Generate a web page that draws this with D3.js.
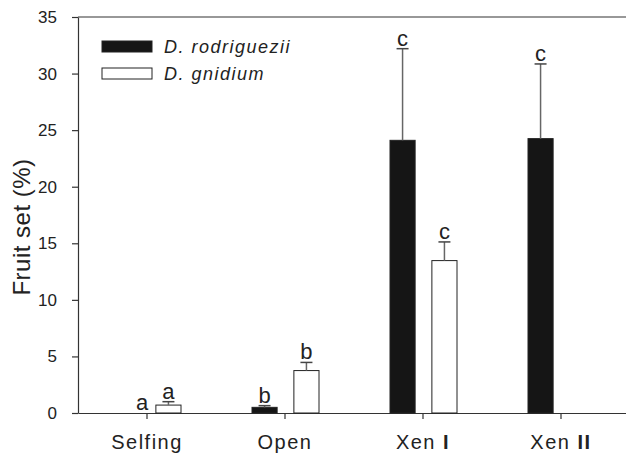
<!DOCTYPE html>
<html>
<head>
<meta charset="utf-8">
<script src="https://cdn.jsdelivr.net/npm/d3@7"></script>
<style>
  body { margin: 0; background: #fff; }
  svg { display: block; font-family: "Liberation Sans", Arial, sans-serif; }
</style>
</head>
<body>
<div id="chart"></div>
<script>
// data
const categories = ["Selfing", "Open", "Xen I", "Xen II"]
const seriesNames = ["D. rodriguezii", "D. gnidium"]
const rodriguezii = [0, 0.5, 24.1, 24.25]
const rodrigueziiErr = [0, 0.15, 8.1, 6.6]
const rodrigueziiLetters = ["a", "b", "c", "c"]
const gnidium = [0.7, 3.75, 13.47, null]
const gnidiumErr = [0.3, 0.72, 1.65, null]
const gnidiumLetters = ["a", "b", "c", null]
const yTicks = [0, 5, 10, 15, 20, 25, 30, 35]

const W = 626, H = 454
const LEFT = 78, RIGHT = 630, TOP = 17, BOTTOM = 413

const svg = d3.select("#chart").append("svg")
  .attr("width", W)
  .attr("height", H)

const x = d3.scaleBand()
  .domain(categories)
  .range([LEFT, RIGHT])

const xSub = d3.scaleBand()
  .domain(seriesNames)
  .range([36, 103])
  .paddingInner(0.4)

const y = d3.scaleLinear()
  .domain([0, 35])
  .range([BOTTOM, TOP])

const fills = ["#151515", "#ffffff"]

// rows for the bars
const rows = []
categories.forEach((c, i) => {
  rows.push({ cat: c, s: seriesNames[0], v: rodriguezii[i], e: rodrigueziiErr[i], l: rodrigueziiLetters[i], k: 0 })
  if (gnidium[i] != null)
    rows.push({ cat: c, s: seriesNames[1], v: gnidium[i], e: gnidiumErr[i], l: gnidiumLetters[i], k: 1 })
})

// frame top line
svg.append("line")
  .attr("x1", LEFT).attr("x2", RIGHT)
  .attr("y1", TOP).attr("y2", TOP)
  .attr("stroke", "#333").attr("stroke-width", 1.2)

// axes
const yAxis = svg.append("g")
  .attr("transform", `translate(${LEFT},0)`)
  .call(d3.axisLeft(y).tickValues(yTicks).tickSize(6).tickPadding(15).tickSizeOuter(0))
yAxis.selectAll("text").style("font-size", "17px").attr("fill", "#222")
yAxis.selectAll("line, path").attr("stroke", "#333").attr("stroke-width", 1.2)

const xAxis = svg.append("g")
  .attr("transform", `translate(0,${BOTTOM})`)
  .call(d3.axisBottom(x).tickSize(6).tickPadding(16).tickSizeOuter(0))
xAxis.selectAll("line, path").attr("stroke", "#333").attr("stroke-width", 1.2)
xAxis.selectAll("text")
  .style("font-size", "20px")
  .style("letter-spacing", "1.5px")
  .attr("fill", "#222")
  .each(function (d) {
    // the roman numerals are drawn heavier in the original
    const t = d3.select(this)
    const m = d.match(/^(Xen )(I+)$/)
    if (m) {
      t.text(null)
      t.append("tspan").text(m[1])
      t.append("tspan").style("font-weight", "bold").text(m[2])
    }
  })

// bars
svg.append("g").selectAll("rect")
  .data(rows.filter(d => d.v > 0))
  .join("rect")
    .attr("x", d => x(d.cat) + xSub(d.s))
    .attr("y", d => y(d.v))
    .attr("width", xSub.bandwidth())
    .attr("height", d => y(0) - y(d.v))
    .attr("fill", d => fills[d.k])
    .attr("stroke", "#222")
    .attr("stroke-width", 1)

// error bars (upper only)
const err = svg.append("g")
  .selectAll("g")
  .data(rows.filter(d => d.e > 0))
  .join("g")
    .attr("transform", d => `translate(${x(d.cat) + xSub(d.s) + xSub.bandwidth() / 2},0)`)
err.append("line")
  .attr("y1", d => y(d.v))
  .attr("y2", d => y(d.v + d.e))
  .attr("stroke", "#666")
  .attr("stroke-width", 1.5)
err.append("line")
  .attr("x1", -6).attr("x2", 6)
  .attr("y1", d => y(d.v + d.e))
  .attr("y2", d => y(d.v + d.e))
  .attr("stroke", "#444")
  .attr("stroke-width", 1.5)

// significance letters
svg.append("g").selectAll("text")
  .data(rows.filter(d => d.l))
  .join("text")
    .attr("x", d => d.v > 0 ? x(d.cat) + xSub(d.s) + xSub.bandwidth() / 2 : x(d.cat) + x.bandwidth() / 2 - 5)
    .attr("y", d => y(d.v + d.e) - 3)
    .attr("text-anchor", "middle")
    .style("font-size", "22px")
    .attr("fill", "#222")
    .text(d => d.l)

// y label
svg.append("text")
  .attr("transform", `translate(30,${(TOP + BOTTOM) / 2 + 12}) rotate(-90)`)
  .attr("text-anchor", "middle")
  .style("font-size", "24px")
  .style("letter-spacing", "0.5px")
  .attr("fill", "#222")
  .text("Fruit set (%)")

// legend
const legend = svg.append("g")
  .selectAll("g")
  .data(seriesNames)
  .join("g")
    .attr("transform", (d, i) => `translate(102,${41 + i * 27})`)
legend.append("rect")
  .attr("width", 50)
  .attr("height", 11)
  .attr("fill", (d, i) => fills[i])
  .attr("stroke", "#222")
  .attr("stroke-width", 1)
legend.append("text")
  .attr("x", 62)
  .attr("y", 12)
  .style("font-size", "18px")
  .style("font-style", "italic")
  .style("letter-spacing", "1.5px")
  .attr("fill", "#222")
  .text(d => d)
</script>
</body>
</html>
